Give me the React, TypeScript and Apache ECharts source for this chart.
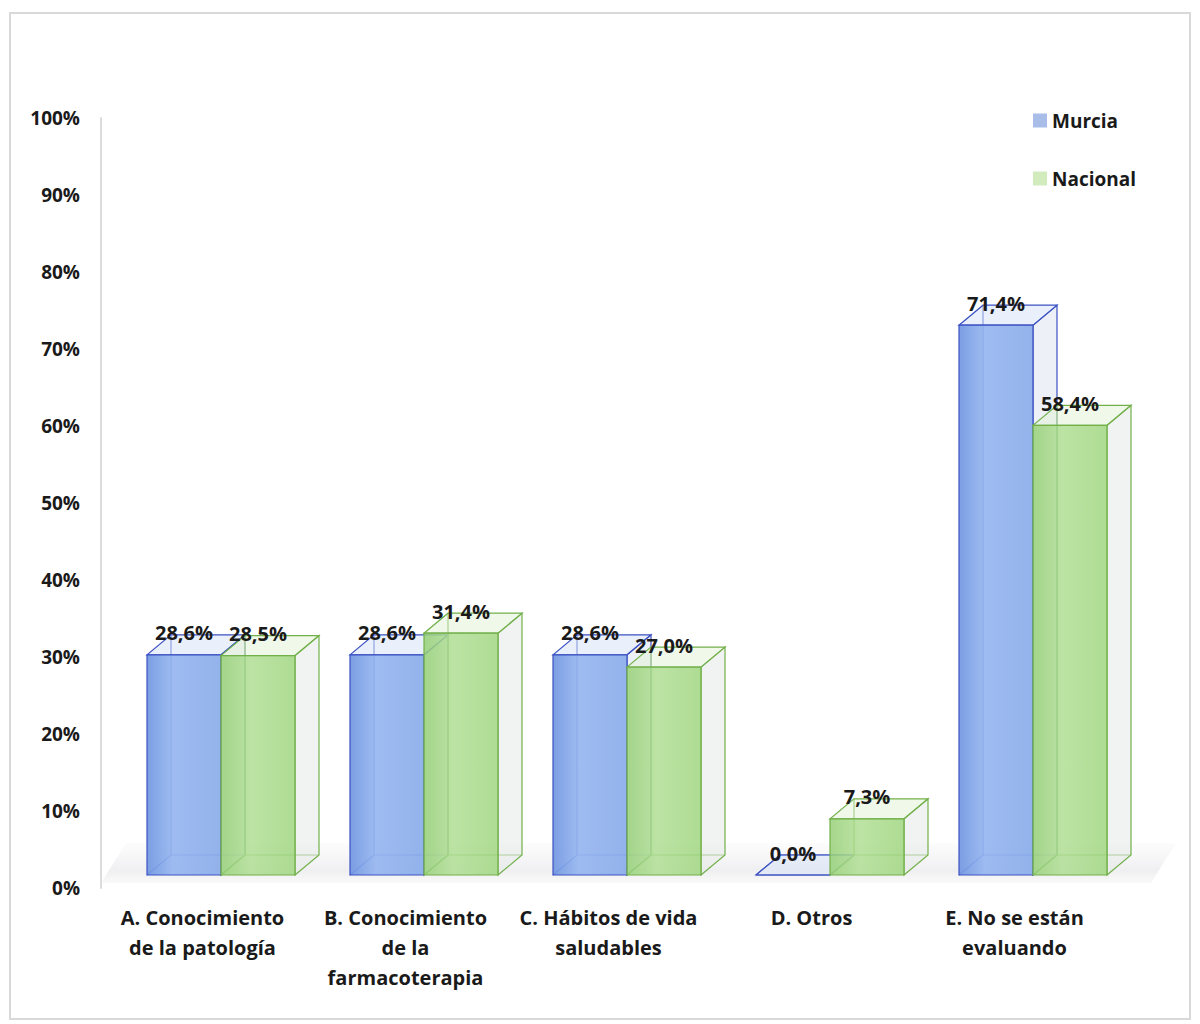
import React, { useEffect, useRef } from "react";
import * as echarts from "echarts";

const categories = [
  "A. Conocimiento\nde la patología",
  "B. Conocimiento\nde la\nfarmacoterapia",
  "C. Hábitos de vida\nsaludables",
  "D. Otros",
  "E. No se están\nevaluando",
];
const murcia = [28.6, 28.6, 28.6, 0.0, 71.4];
const nacional = [28.5, 31.4, 27.0, 7.3, 58.4];
const seriesNames = ["Murcia", "Nacional"];

const FONT = "'Open Sans', 'Noto Sans', sans-serif";
const TEXT = "#1a1a1a";

const styles = [
  {
    stroke: "#3d52c2",
    front: new echarts.graphic.LinearGradient(0, 0, 1, 0, [
      { offset: 0, color: "rgba(112,150,225,0.92)" },
      { offset: 0.35, color: "rgba(150,182,240,0.92)" },
      { offset: 1, color: "rgba(138,172,234,0.92)" },
    ]),
    top: "rgba(215,228,248,0.55)",
    side: "rgba(225,232,242,0.6)",
  },
  {
    stroke: "#72b04a",
    front: new echarts.graphic.LinearGradient(0, 0, 1, 0, [
      { offset: 0, color: "rgba(150,208,118,0.85)" },
      { offset: 0.4, color: "rgba(176,222,148,0.85)" },
      { offset: 1, color: "rgba(160,214,128,0.85)" },
    ]),
    top: "rgba(225,242,214,0.5)",
    side: "rgba(228,234,230,0.55)",
  },
];

const DX = 24;
const DY = -20;
const LIFT = 13;
const BAR_FRAC = 74 / 203;
const SHIFT_FRAC = 18.5 / 203;

function fmt(v: number) {
  return v.toFixed(1).replace(".", ",") + "%";
}

function makeRender(si: number) {
  return (params: any, api: any) => {
    const xi = api.value(0);
    const v = api.value(1);
    const top = api.coord([xi, v]);
    const base = api.coord([xi, 0]);
    const band = api.size([1, 0])[0];
    const bw = band * BAR_FRAC;
    const center = base[0] + band * SHIFT_FRAC;
    const x0 = si === 0 ? center - bw : center;
    const x1 = x0 + bw;
    const yb = base[1] - LIFT;
    const yt = top[1] - LIFT;
    const st = styles[si];
    const line = { stroke: st.stroke, lineWidth: 1.2 };
    const children: any[] = [
      { type: "line", shape: { x1: x0 + DX, y1: yb + DY, x2: x0 + DX, y2: yt + DY }, style: line },
      { type: "line", shape: { x1: x0 + DX, y1: yb + DY, x2: x1 + DX, y2: yb + DY }, style: line },
      { type: "line", shape: { x1: x0, y1: yb, x2: x0 + DX, y2: yb + DY }, style: line },
      {
        type: "polygon",
        shape: { points: [[x1, yb], [x1 + DX, yb + DY], [x1 + DX, yt + DY], [x1, yt]] },
        style: { fill: st.side, stroke: st.stroke, lineWidth: 1.2 },
      },
      {
        type: "polygon",
        shape: { points: [[x0, yt], [x1, yt], [x1 + DX, yt + DY], [x0 + DX, yt + DY]] },
        style: { fill: st.top, stroke: st.stroke, lineWidth: 1.2 },
      },
      {
        type: "rect",
        shape: { x: x0, y: yt, width: bw, height: yb - yt },
        style: { fill: st.front, stroke: st.stroke, lineWidth: 1.2 },
      },
      {
        type: "text",
        style: {
          text: fmt(v),
          x: (x0 + x1) / 2,
          y: yt + DY - 2,
          align: "center",
          verticalAlign: "middle",
          fill: TEXT,
          font: `bold 20px ${FONT}`,
        },
      },
    ];
    return { type: "group", children };
  };
}

function renderFloor(params: any, api: any) {
  const first = api.coord([0, 0]);
  const last = api.coord([categories.length - 1, 0]);
  const band = api.size([1, 0])[0];
  const left = first[0] - band / 2;
  const right = last[0] + band / 2 + 35;
  const yf = first[1] - 5;
  const yk = first[1] - 45;
  return {
    type: "polygon",
    shape: { points: [[left, yf], [right, yf], [right + 25, yk], [left + 25, yk]] },
    style: {
      fill: new echarts.graphic.LinearGradient(0, 0, 0, 1, [
        { offset: 0, color: "rgba(228,228,232,0.1)" },
        { offset: 0.7, color: "rgba(224,224,228,0.5)" },
        { offset: 1, color: "rgba(232,232,234,0.25)" },
      ]),
    },
  };
}

export default function App() {
  const ref = useRef<HTMLDivElement>(null);
  useEffect(() => {
    if (!ref.current) return;
    const chart = echarts.init(ref.current, undefined, { renderer: "svg" });
    chart.setOption({
      animation: false,
      backgroundColor: "#ffffff",
      graphic: [
        {
          type: "rect",
          shape: { x: 10, y: 13, width: 1180, height: 1006 },
          style: { fill: "none", stroke: "#d9d9d9", lineWidth: 2 },
          silent: true,
        },
      ],
      legend: {
        orient: "vertical",
        left: 1028,
        top: 106,
        itemWidth: 14,
        itemHeight: 14,
        itemGap: 39,
        icon: "rect",
        textStyle: { fontFamily: FONT, fontWeight: "bold", fontSize: 19, color: TEXT },
        data: [
          { name: seriesNames[0], itemStyle: { color: "#a9bde9" } },
          { name: seriesNames[1], itemStyle: { color: "#d2ebbd" } },
        ],
      },
      grid: { left: 101, top: 118, width: 1015, height: 770 },
      xAxis: {
        type: "category",
        data: categories,
        axisLine: { show: false },
        axisTick: { show: false },
        axisLabel: {
          interval: 0,
          margin: 14,
          fontFamily: FONT,
          fontWeight: "bold",
          fontSize: 20,
          lineHeight: 30,
          color: TEXT,
          align: "center",
        },
      },
      yAxis: {
        type: "value",
        min: 0,
        max: 100,
        interval: 10,
        axisLine: { show: true, lineStyle: { color: "#dcdcdc", width: 2 } },
        axisTick: { show: false },
        splitLine: { show: false },
        axisLabel: {
          formatter: "{value}%",
          margin: 21,
          fontFamily: FONT,
          fontWeight: "bold",
          fontSize: 19,
          color: TEXT,
        },
      },
      series: [
        {
          name: "floor",
          type: "custom",
          silent: true,
          renderItem: renderFloor,
          data: [[0, 0]],
          z: 1,
        },
        {
          name: seriesNames[0],
          type: "custom",
          renderItem: makeRender(0),
          itemStyle: { color: "#a9bde9" },
          data: murcia.map((v, i) => [i, v]),
          z: 2,
        },
        {
          name: seriesNames[1],
          type: "custom",
          renderItem: makeRender(1),
          itemStyle: { color: "#d2ebbd" },
          data: nacional.map((v, i) => [i, v]),
          z: 3,
        },
      ],
    });
    return () => chart.dispose();
  }, []);
  return (
    <div
      ref={ref}
      style={{ position: "absolute", left: 0, top: 0, width: 1200, height: 1024 }}
    />
  );
}
